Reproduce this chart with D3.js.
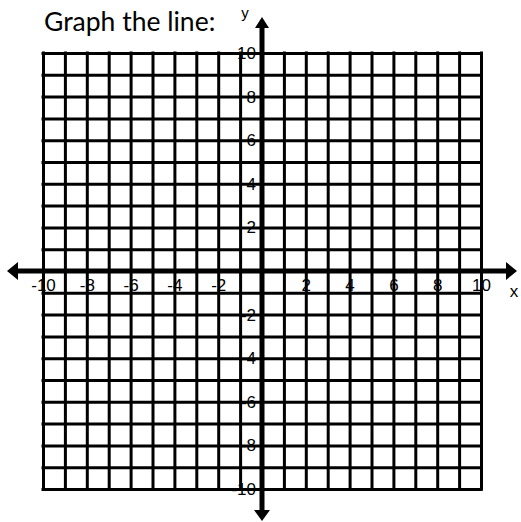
<!DOCTYPE html>
<html>
<head>
<meta charset="utf-8">
<script src="https://cdn.jsdelivr.net/npm/d3@7"></script>
<style>
  html, body { margin: 0; padding: 0; background: #fff; }
  svg { display: block; }
  .lbl text { font-family: "Liberation Sans", Arial, sans-serif; font-size: 17px; fill: #000; }
</style>
</head>
<body>
<div id="chart"></div>
<script>
/* ── DATA ── */
const title   = 'Graph the line:';
const xDomain = [-10, 10];
const yDomain = [-10, 10];
const xTicks  = [-10, -8, -6, -4, -2, 2, 4, 6, 8, 10];
const yTicks  = [10, 8, 6, 4, 2, -2, -4, -6, -8, -10];
const gridCount = 20;

const W = 521, H = 522;
const m = { left: 43, right: 481, top: 53, bottom: 489 };

const x = d3.scaleLinear().domain(xDomain).range([m.left, m.right]);
const y = d3.scaleLinear().domain(yDomain).range([m.bottom, m.top]);

const svg = d3.select('#chart').append('svg').attr('width', W).attr('height', H);

// title
svg.append('text')
  .attr('x', 44).attr('y', 31)
  .attr('font-family', 'Lato, "Open Sans", sans-serif')
  .attr('font-size', 26.5)
  .attr('fill', '#000')
  .text(title);

// tick labels (drawn under the grid, like the original)
const xLab = svg.append('g').attr('class', 'lbl')
  .attr('transform', `translate(0,${y(0)})`)
  .call(d3.axisBottom(x).tickValues(xTicks).tickSize(0).tickFormat(d => d));
xLab.select('.domain').remove();
xLab.selectAll('text').attr('y', 20).attr('dy', 0);

const yLab = svg.append('g').attr('class', 'lbl')
  .attr('transform', `translate(${x(0)},0)`)
  .call(d3.axisLeft(y).tickValues(yTicks).tickSize(0).tickFormat(d => d));
yLab.select('.domain').remove();
yLab.selectAll('text').attr('x', -6).attr('dy', '0.32em');

// grid
const gx = svg.append('g')
  .attr('transform', `translate(0,${m.bottom})`)
  .call(d3.axisBottom(x).ticks(gridCount).tickSize(-(m.bottom - m.top)).tickFormat(''));
const gy = svg.append('g')
  .attr('transform', `translate(${m.left},0)`)
  .call(d3.axisLeft(y).ticks(gridCount).tickSize(-(m.right - m.left)).tickFormat(''));
[gx, gy].forEach(g => {
  g.select('.domain').remove();
  g.selectAll('line').attr('stroke', '#000').attr('stroke-width', 3).attr('stroke-linecap', 'square');
});

// main axes with arrows
const ax = svg.append('g');
const x0 = x(0), y0 = y(0);
const xl = 7, xr = 517, yt = 17, yb = 521;
ax.append('line').attr('x1', xl + 8).attr('x2', xr - 8).attr('y1', y0).attr('y2', y0)
  .attr('stroke', '#000').attr('stroke-width', 5);
ax.append('line').attr('y1', yt + 8).attr('y2', yb - 8).attr('x1', x0).attr('x2', x0)
  .attr('stroke', '#000').attr('stroke-width', 5);
ax.append('path').attr('d', `M${xl},${y0}L${xl + 11},${y0 - 9}L${xl + 11},${y0 + 9}Z`);
ax.append('path').attr('d', `M${xr},${y0}L${xr - 11},${y0 - 9}L${xr - 11},${y0 + 9}Z`);
ax.append('path').attr('d', `M${x0},${yt}L${x0 - 7},${yt + 11}L${x0 + 7},${yt + 11}Z`);
ax.append('path').attr('d', `M${x0},${yb}L${x0 - 8},${yb - 11}L${x0 + 8},${yb - 11}Z`);

// axis names
svg.append('text').attr('x', 514).attr('y', 297).attr('text-anchor', 'middle')
  .attr('font-family', '"Liberation Sans", Arial, sans-serif').attr('font-size', 17).text('x');
svg.append('text').attr('x', 245).attr('y', 18).attr('text-anchor', 'middle')
  .attr('font-family', '"Liberation Sans", Arial, sans-serif').attr('font-size', 15).text('y');
</script>
</body>
</html>
